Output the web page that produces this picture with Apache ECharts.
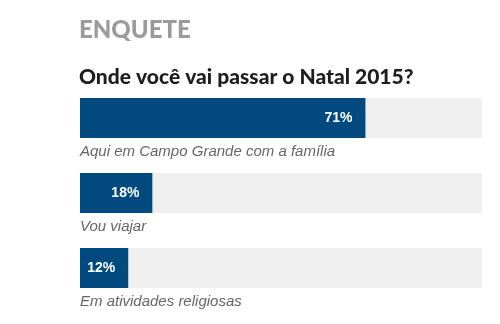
<!DOCTYPE html>
<html>
<head>
<meta charset="utf-8">
<script src="https://cdn.jsdelivr.net/npm/echarts@6/dist/echarts.min.js"></script>
<style>
  html, body { margin: 0; padding: 0; background: #ffffff; }
  #chart { width: 500px; height: 324px; }
</style>
</head>
<body>
<div id="chart"></div>
<script>
// Poll answers and their share of votes (%)
const answers = ['Aqui em Campo Grande com a família', 'Vou viajar', 'Em atividades religiosas'];
const shares = [71, 18, 12];
const heading = 'ENQUETE';
const question = 'Onde você vai passar o Natal 2015?';

const chart = echarts.init(document.getElementById('chart'), null, { renderer: 'canvas' });

chart.setOption({
  animation: false,
  backgroundColor: '#ffffff',
  title: [
    {
      text: heading,
      left: 74, top: 13,
      textStyle: { fontFamily: 'Lato', fontWeight: 900, fontSize: 24, color: '#9b9b9b' }
    },
    {
      text: question,
      left: 74, top: 62,
      textStyle: { fontFamily: 'Lato', fontWeight: 900, fontSize: 21, color: '#1e1e1e' }
    }
  ],
  grid: { left: 80, right: 18, top: 80.5, height: 225, containLabel: false },
  xAxis: {
    type: 'value', min: 0, max: 100,
    show: false
  },
  yAxis: {
    type: 'category', data: answers, inverse: true,
    axisLine: { show: false }, axisTick: { show: false },
    axisLabel: {
      show: true, inside: false, margin: 0, align: 'left', verticalAlign: 'top',
      padding: [26, 0, 0, 0],
      fontFamily: 'Liberation Sans', fontStyle: 'italic', fontSize: 15, color: '#666666'
    }
  },
  series: [{
    type: 'bar',
    data: shares,
    barWidth: 40,
    itemStyle: { color: '#004a80' },
    showBackground: true,
    backgroundStyle: { color: '#efefef' },
    label: {
      show: true, position: 'insideRight', distance: 13,
      formatter: '{c}%',
      fontFamily: 'Liberation Sans', fontWeight: 'bold', fontSize: 14, color: '#ffffff'
    }
  }]
});
</script>
</body>
</html>
